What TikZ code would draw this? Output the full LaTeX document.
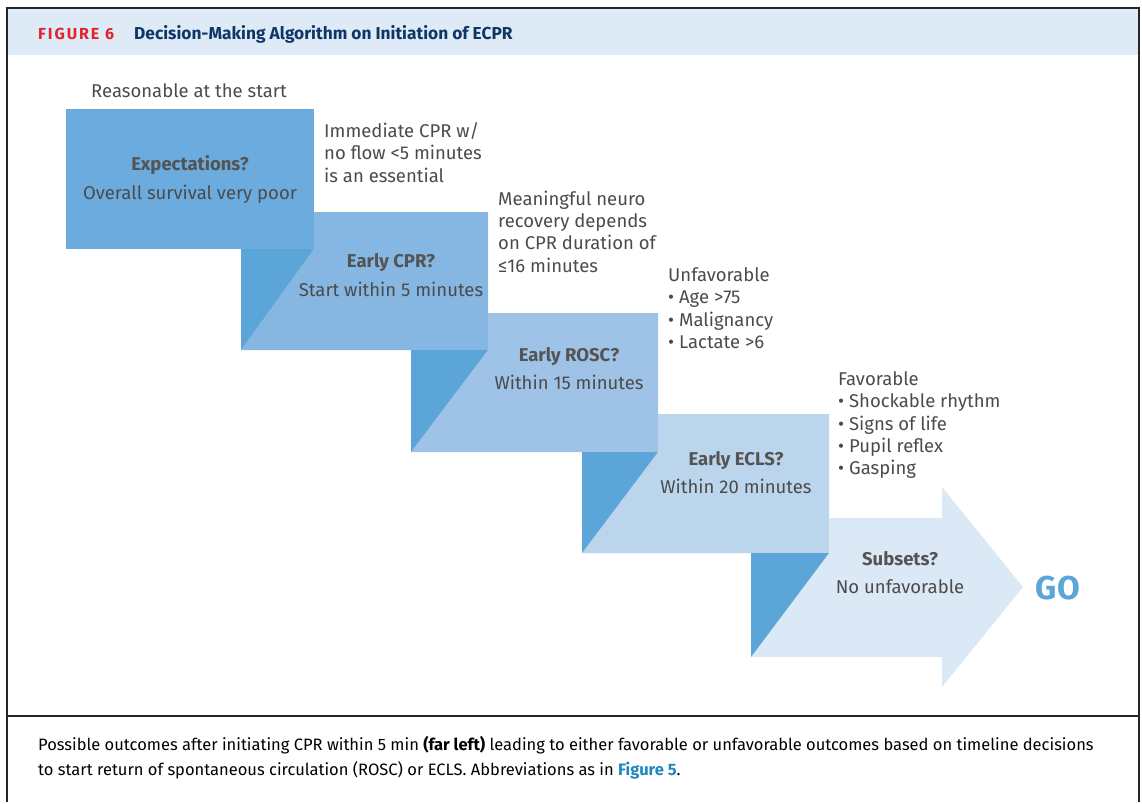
\documentclass[tikz,border=0pt]{standalone}
\usepackage{fontspec}
\setmainfont{Fira Sans}
\newfontfamily\capfont{Fira Sans}
\usepackage{xcolor}
\definecolor{hdrband}{HTML}{DEEAF6}
\definecolor{figred}{HTML}{E2232E}
\definecolor{navy}{HTML}{0E3766}
\definecolor{txtgrey}{HTML}{4B4B4B}
\definecolor{tri}{HTML}{5BA5D9}
\definecolor{stepA}{HTML}{6CABDD}
\definecolor{stepB}{HTML}{86B6E2}
\definecolor{stepC}{HTML}{9EC3E7}
\definecolor{stepD}{HTML}{BBD5ED}
\definecolor{stepE}{HTML}{DBE8F5}
\definecolor{linkblue}{HTML}{1F86C0}
\usetikzlibrary{calc}

\tikzset{
  boxq/.style={anchor=base, inner sep=0pt, text=txtgrey!95,
    font=\fontsize{18.5}{22}\selectfont\bfseries},
  boxsub/.style={anchor=base, inner sep=0pt, text=txtgrey,
    font=\fontsize{18.5}{22}\selectfont},
  note/.style={anchor=north west, inner sep=0pt, align=left, text=txtgrey,
    font=\fontsize{18.5}{22.3}\selectfont}
}

\begin{document}
\begin{tikzpicture}[x=1pt,y=-1pt]
\useasboundingbox (0,0) rectangle (1142,803);
\fill[hdrband] (8,9) rectangle (1138,55);
\draw[line width=1.6pt, black!85]
(7,802) -- (7,8) -- (1139,8) -- (1139,802)
(7,716) -- (1139,716);

\fill[stepA] (66,109) rectangle (314,249);
\fill[stepB] (314,212) -- (488,212) -- (488,350) -- (241,350) -- (314,249) -- cycle;
\fill[stepC] (488,313) -- (658,313) -- (658,452) -- (411,452) -- (488,350) -- cycle;
\fill[stepD] (658,414) -- (829,414) -- (829,553) -- (582,553) -- (658,452) -- cycle;
\fill[stepE] (829,518) -- (942,518) -- (942,487) -- (1023,587) -- (942,687)
  -- (942,657) -- (751,657) -- (829,553) -- cycle;
\fill[tri]
(241,249) -- (314,249) -- (241,350) -- cycle
(411,350) -- (488,350) -- (411,452) -- cycle
(582,452) -- (658,452) -- (582,553) -- cycle
(751,553) -- (829,553) -- (751,657) -- cycle;

\node[anchor=base west, inner sep=0pt, font=\fontsize{16}{18}\selectfont\bfseries\addfontfeatures{LetterSpace=12}, text=figred] (fignum) at (38,39) {FIGURE 6};
\node[anchor=base west, inner sep=0pt, font=\capfont\fontsize{17.3}{19}\selectfont\bfseries, text=navy] (figtitle) at (134,39) {Decision-Making Algorithm on Initiation of ECPR};

\node[boxsub] (start) at (189,97) {Reasonable at the start};

\node[boxq] (expq) at (190,170) {Expectations?};
\node[boxsub] (expsub) at (190,199) {Overall survival very poor};
\node[boxq] (cprq) at (391,267) {Early CPR?};
\node[boxsub] (cprsub) at (391,296) {Start within 5 minutes};
\node[boxq] (roscq) at (569,361) {Early ROSC?};
\node[boxsub] (roscsub) at (569,389) {Within 15 minutes};
\node[boxq] (eclsq) at (736,465) {Early ECLS?};
\node[boxsub] (eclssub) at (736,493) {Within 20 minutes};
\node[boxq] (subq) at (900,565) {Subsets?};
\node[boxsub] (subsub) at (900,593) {No unfavorable};

\node[anchor=base, inner sep=0pt, font=\fontsize{33}{36}\selectfont\bfseries, text=tri] (go) at (1058,599) {GO};

\node[note] (noteflow) at (324,122.5) {Immediate CPR w/\\no flow <5 minutes\\is an essential};
\node[note] (noteneuro) at (498,190.5) {Meaningful neuro\\recovery depends\\on CPR duration of\\≤16 minutes};
\node[note] (noteunfav) at (668,267.5) {Unfavorable\\• Age >75\\• Malignancy\\• Lactate >6};
\node[note] (notefav) at (838,371.5) {Favorable\\• Shockable rhythm\\• Signs of life\\• Pupil reflex\\• Gasping};

\node[anchor=north west, inner sep=0pt, align=left, font=\capfont\fontsize{16.5}{25}\selectfont] (caption) at (38,736)
{Possible outcomes after initiating CPR within 5 min \textbf{(far left)} leading to either favorable or unfavorable outcomes based on timeline decisions\\
to start return of spontaneous circulation (ROSC) or ECLS. Abbreviations as in \textcolor{linkblue}{\textbf{Figure 5}}.};
\end{tikzpicture}
\end{document}
